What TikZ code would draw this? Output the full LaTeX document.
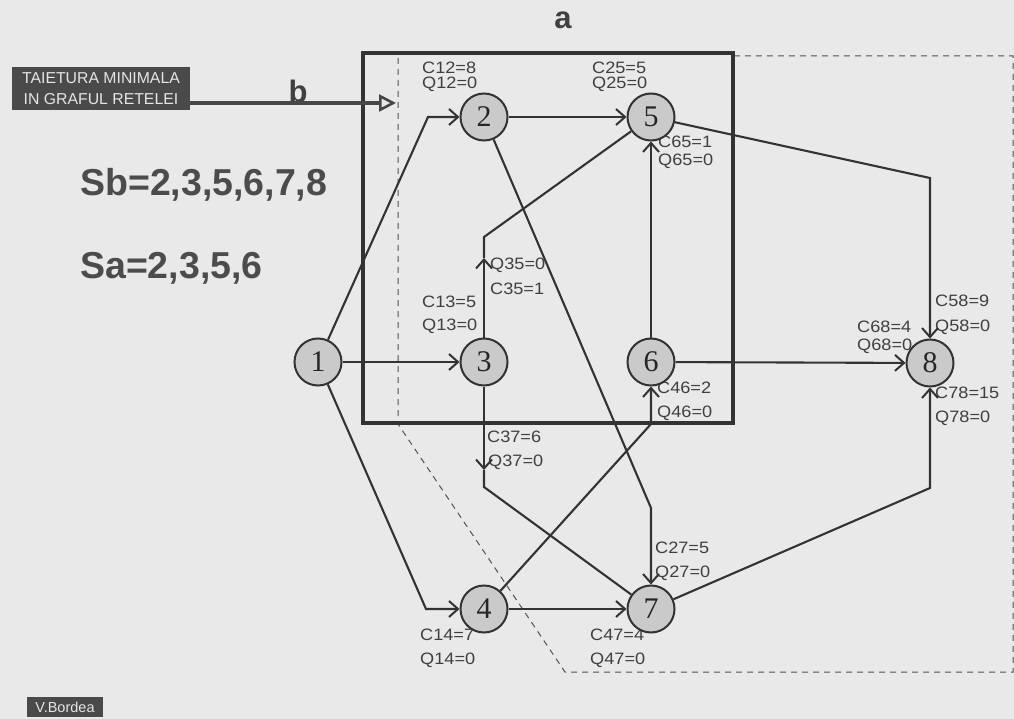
\documentclass[tikz,border=0pt]{standalone}
\usepackage{fontspec}
\setmainfont{Liberation Sans}
\newfontfamily\labfont[FakeStretch=1.1]{Liberation Sans}
\newfontfamily\numfont{Liberation Serif}
\usetikzlibrary{arrows.meta}
\definecolor{bg}{HTML}{E9E9E9}
\definecolor{ink}{HTML}{333333}
\definecolor{nodefill}{HTML}{CACACA}
\definecolor{txt}{HTML}{404040}
\definecolor{boxfill}{HTML}{4A4A4A}
\definecolor{bigtxt}{HTML}{4C4C4C}
\begin{document}
\begin{tikzpicture}[x=1pt,y=-1pt,
  vert/.style={circle, draw=ink, line width=2pt, fill=nodefill, minimum size=47pt, inner sep=0pt,
    font=\numfont\fontsize{30}{30}\selectfont, text=black!85},
  lab/.style={anchor=west, inner sep=0pt, text=txt, font=\labfont\fontsize{16.5}{16.5}\selectfont},
  edge/.style={draw=ink, line width=2.1pt},
  tip/.style={-{Straight Barb[length=9pt,width=16pt,line width=2pt]}},
  cut/.style={draw=ink!85, line width=1pt, dash pattern=on 6pt off 5pt},
  darkbox/.style={fill=boxfill, text=white!90!black, inner sep=0pt, align=center},
  bigtext/.style={anchor=west, inner sep=0pt, text=bigtxt, font=\bfseries\fontsize{37.5}{37.5}\selectfont},
  letter/.style={inner sep=0pt, text=txt, font=\bfseries\fontsize{31}{31}\selectfont},
]
\useasboundingbox (0,0) rectangle (1014,719);
\fill[bg] (0,0) rectangle (1014,719);

% cut lines and main box
\draw[cut] (398,58) -- (398,424) -- (565,672) -- (1013,672) -- (1013,56) -- (735,56);
\draw[draw=ink, line width=3.8pt] (363,53) rectangle (733,423);

% texts
\node[letter] (la) at (563,20) {a};
\node[letter] (lb) at (298,91) {b};
\node[darkbox, minimum width=178pt, minimum height=43pt,
  font=\fontsize{15.8}{21}\selectfont] (tbox) at (101,88.5) {TAIETURA MINIMALA\\IN GRAFUL RETELEI};
\node[darkbox, minimum width=76pt, minimum height=20pt, font=\fontsize{14.5}{14.5}\selectfont] (auth) at (65,707) {V.Bordea};
\node[bigtext] (sb) at (80,185) {Sb=2,3,5,6,7,8};
\node[bigtext] (sa) at (80,268) {Sa=2,3,5,6};

\coordinate (bstart) at (190,103);
\coordinate (bend) at (396,103);
\draw[draw=ink!90, line width=3.8pt, -{Triangle[open, length=17pt, width=17pt, line width=2.6pt]}] (bstart) -- (bend);

% edge labels
\node[lab] (l1) at (422,68) {C12=8};
\node[lab] (l2) at (422,84) {Q12=0};
\node[lab] (l3) at (592,68) {C25=5};
\node[lab] (l4) at (592,84) {Q25=0};
\node[lab] (l5) at (658,142) {C65=1};
\node[lab] (l6) at (658,161) {Q65=0};
\node[lab] (l7) at (490,265) {Q35=0};
\node[lab] (l8) at (490,289) {C35=1};
\node[lab] (l9) at (422,302) {C13=5};
\node[lab] (l10) at (422,326) {Q13=0};
\node[lab] (l11) at (657,388) {C46=2};
\node[lab] (l12) at (657,413) {Q46=0};
\node[lab] (l13) at (487,437) {C37=6};
\node[lab] (l14) at (488,462) {Q37=0};
\node[lab] (l15) at (655,548) {C27=5};
\node[lab] (l16) at (655,573) {Q27=0};
\node[lab] (l17) at (420,635) {C14=7};
\node[lab] (l18) at (420,660) {Q14=0};
\node[lab] (l19) at (590,635) {C47=4};
\node[lab] (l20) at (590,660) {Q47=0};
\node[lab] (l21) at (935,301) {C58=9};
\node[lab] (l22) at (935,327) {Q58=0};
\node[lab] (l23) at (857,327) {C68=4};
\node[lab] (l24) at (857,346) {Q68=0};
\node[lab] (l25) at (935,393) {C78=15};
\node[lab] (l26) at (935,418) {Q78=0};

% vertices
\node[vert] (1) at (318,362) {1};
\node[vert] (2) at (484,117) {2};
\node[vert] (3) at (484,362) {3};
\node[vert] (4) at (484,609) {4};
\node[vert] (5) at (651,117) {5};
\node[vert] (6) at (651,362) {6};
\node[vert] (7) at (651,609) {7};
\node[vert] (8) at (930,363) {8};

% bend points
\coordinate (c12) at (428,117);
\coordinate (c14) at (426,609);
\coordinate (c27) at (651,508);
\coordinate (c35) at (484,237);
\coordinate (m35) at (484,258);
\coordinate (c37) at (484,487);
\coordinate (m37) at (484,470);
\coordinate (c46) at (651,424);
\coordinate (c58) at (930,178);
\coordinate (c78) at (930,488);

% edges
\draw[edge,tip] (1) -- (c12) -- (2);
\draw[edge,tip] (1) -- (3);
\draw[edge,tip] (1) -- (c14) -- (4);
\draw[edge,tip] (2) -- (5);
\draw[edge,tip] (2) -- (c27) -- (7);
\draw[edge,tip] (3) -- (m35);
\draw[edge] (m35) -- (c35) -- (5);
\draw[edge,tip] (3) -- (m37);
\draw[edge] (m37) -- (c37) -- (7);
\draw[edge,tip] (4) -- (c46) -- (6);
\draw[edge,tip] (4) -- (7);
\draw[edge,tip] (6) -- (5);
\draw[edge,tip] (6) -- (8);
\draw[edge,tip] (5) -- (c58) -- (8);
\draw[edge,tip] (7) -- (c78) -- (8);
\end{tikzpicture}
\end{document}
